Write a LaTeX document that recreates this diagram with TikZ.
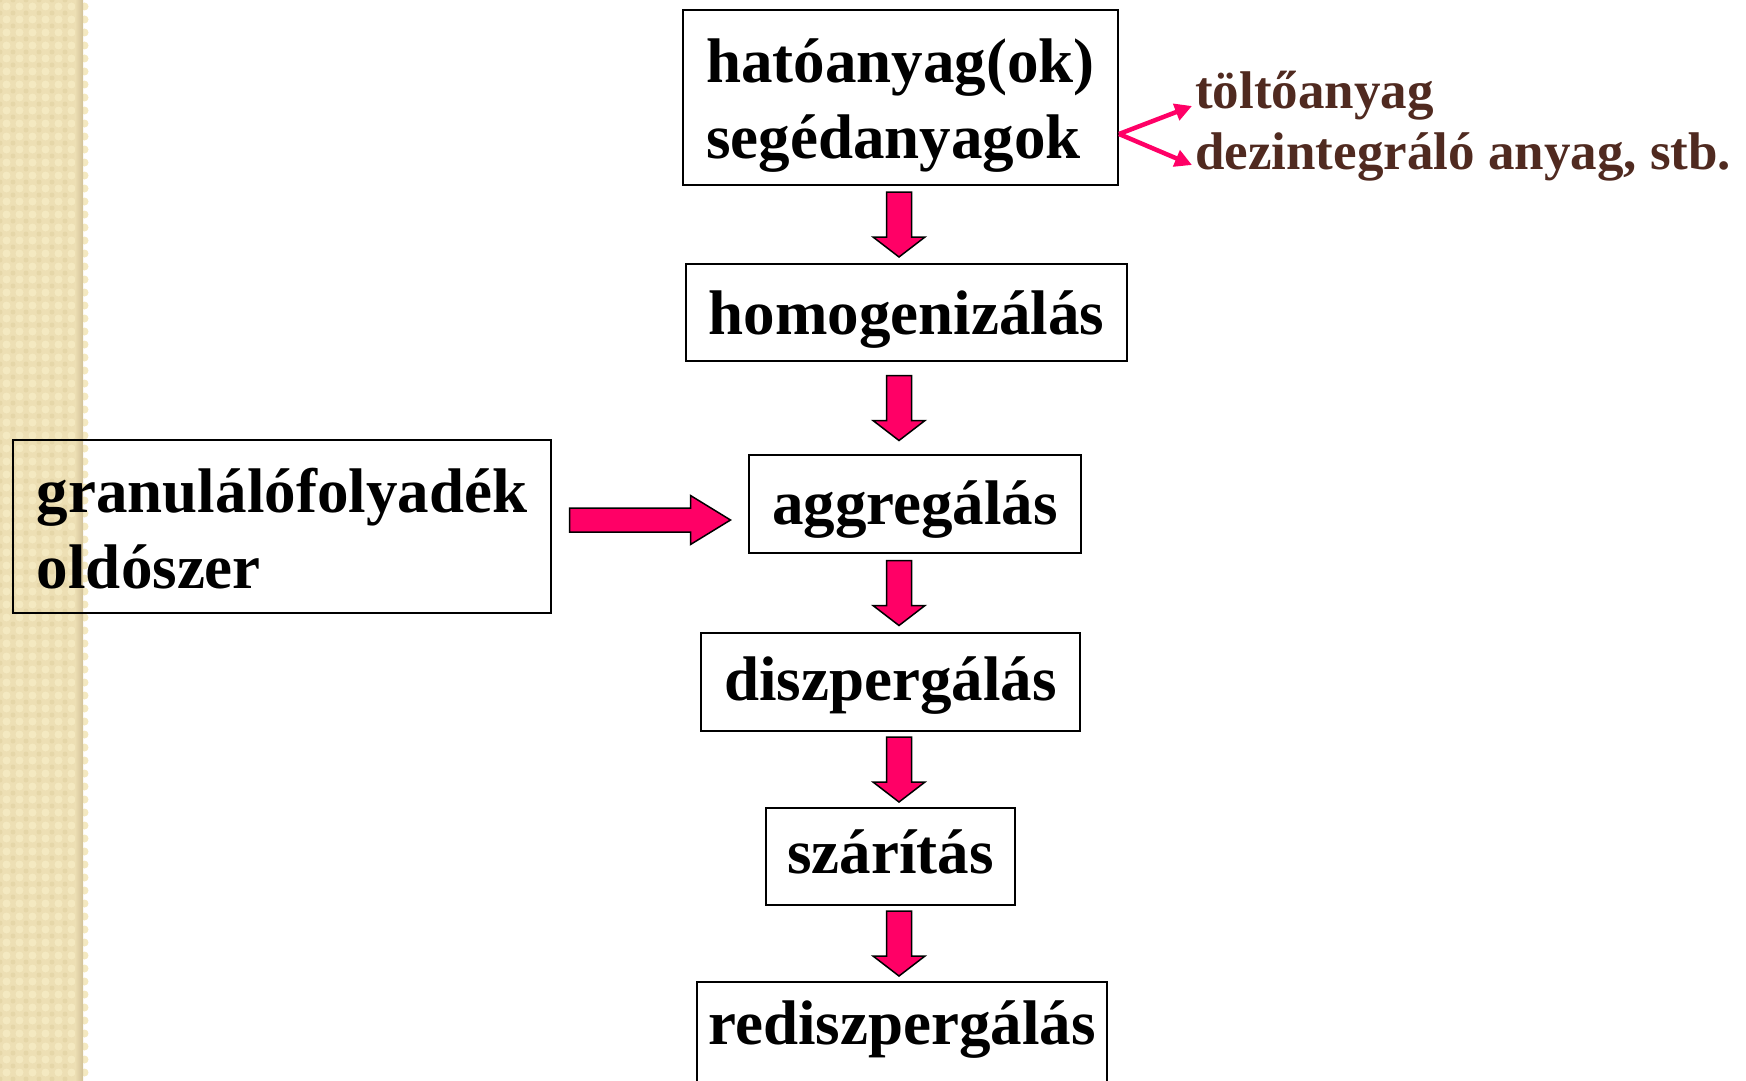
\documentclass[tikz,border=0pt]{standalone}
\usepackage{fontspec}
\setmainfont{Liberation Serif}
\usetikzlibrary{calc,arrows.meta}

\definecolor{pinkfill}{RGB}{255,0,102}
\definecolor{sidebrown}{RGB}{80,42,32}
\definecolor{stripbase}{RGB}{237,223,180}
\definecolor{striplight}{RGB}{244,233,193}
\definecolor{stripdark}{RGB}{229,214,168}
\definecolor{stripedge}{RGB}{208,192,150}

\tikzset{
  stepbox/.style={draw=black, line width=2pt, inner sep=0pt, align=center,
    font=\fontsize{63}{76}\selectfont\bfseries},
  multibox/.style={stepbox, align=left},
  sidetext/.style={inner sep=0pt, anchor=base west, text=sidebrown,
    font=\fontsize{53}{64}\selectfont\bfseries},
  blockfill/.style={fill=pinkfill, draw=black, line width=1.5pt, line join=miter},
  forkline/.style={draw=pinkfill, line width=4.5pt,
    -{Triangle[length=17pt,width=17pt]}},
  pics/downarrow/.style={code={
    \path[blockfill] (-12.5,-32.5) -- (12.5,-32.5) -- (12.5,12.5) -- (26,12.5)
      -- (0,32.5) -- (-26,12.5) -- (-12.5,12.5) -- cycle;}},
  pics/rightarrow/.style={code={
    \path[blockfill] (-80.5,-12) -- (40.5,-12) -- (40.5,-24.5) -- (80.5,0)
      -- (40.5,24.5) -- (40.5,12) -- (-80.5,12) -- cycle;}},
}

\begin{document}
\begin{tikzpicture}[x=1pt,y=-1pt]
\useasboundingbox (0,0) rectangle (1746,1081);
\clip (0,0) rectangle (1746,1081);

% textured side strip
\fill[stripbase] (0,0) rectangle (83,1081);
\foreach \i in {0,...,6}{
  \foreach \j in {0,...,83}{
    \fill[striplight] (6.5+13*\i,6.5+13*\j) circle (4pt);
    \fill[stripdark] (13*\i,13*\j) circle (2.5pt);
  }
}
\shade[left color=stripbase, right color=stripedge] (75,0) rectangle (83,1081);

% process steps (two-line boxes: height measured to the last baseline)
\node[multibox, minimum width=435pt, text height=148pt, text depth=27pt,
  anchor=north] (hat) at (900.5,9) {hatóanyag(ok)\\segédanyagok};
\node[stepbox, minimum width=441pt, text height=70pt, text depth=27pt,
  anchor=north] (homog) at (906.5,263) {homogenizálás};
\node[stepbox, minimum width=332pt, text height=69pt, text depth=29pt,
  anchor=north] (aggr) at (915,454) {aggregálás};
\node[multibox, minimum width=538pt, text height=148pt, text depth=25pt,
  anchor=north] (gran) at (282,439) {granulálófolyadék\\oldószer};
\node[stepbox, minimum width=379pt, text height=67pt, text depth=31pt,
  anchor=north] (disz) at (890.5,632) {diszpergálás};
\node[stepbox, minimum width=249pt, text height=65pt, text depth=32pt,
  anchor=north] (szar) at (890.5,807) {szárítás};
\node[stepbox, minimum width=410pt, text height=62pt, text depth=150pt,
  anchor=north] (redisz) at (902,981) {rediszpergálás};

% excipient examples
\node[sidetext] (tolto) at (1195,108) {töltőanyag};
\node[sidetext] (dezint) at (1195,169) {dezintegráló anyag, stb.};

% fork from the excipients box
\coordinate (fork) at (hat.east |- 0,134);
\draw[forkline] (fork) -- ([shift={(-3,-2)}]tolto.base west);
\draw[forkline] (fork) -- ([shift={(-3,-4)}]dezint.base west);

% block arrows between the steps
\coordinate (axis) at (899,0);
\coordinate (m1) at ($(hat.south)!0.5!(homog.north)$);
\coordinate (m2) at ($(homog.south)!0.5!(aggr.north)$);
\coordinate (m3) at ($(aggr.south)!0.5!(disz.north)$);
\coordinate (m4) at ($(disz.south)!0.5!(szar.north)$);
\coordinate (m5) at ($(szar.south)!0.5!(redisz.north)$);
\foreach \m in {m1,m2,m3,m4,m5}{
  \pic at (axis |- \m) {downarrow};
}

% liquid feed into aggregation
\coordinate (gap) at ($(gran.east)!0.5!(aggr.west)$);
\pic at (gap |- 0,520) {rightarrow};
\end{tikzpicture}
\end{document}
